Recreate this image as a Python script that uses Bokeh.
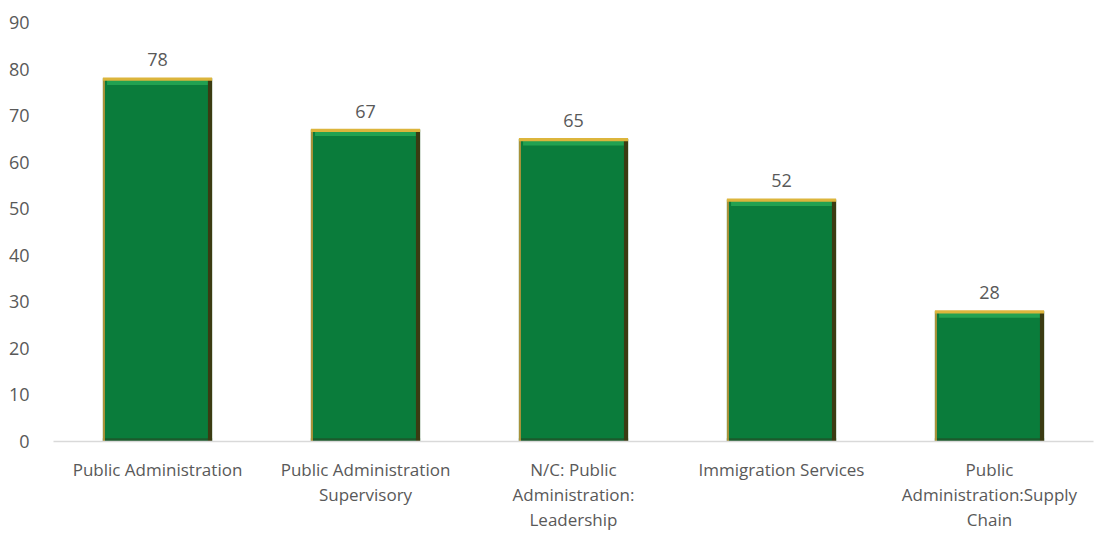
from bokeh.plotting import figure
from bokeh.models import ColumnDataSource, FixedTicker, Range1d
from bokeh.core.properties import value
from bokeh.transform import dodge
from bokeh.embed import file_html
from bokeh.resources import INLINE

categories = ["Public Administration", "Public Administration\nSupervisory",
              "N/C: Public\nAdministration:\nLeadership", "Immigration Services",
              "Public\nAdministration:Supply\nChain"]
values = [78, 67, 65, 52, 28]
y_ticks = [0, 10, 20, 30, 40, 50, 60, 70, 80, 90]

xs = list(range(len(categories)))
src = ColumnDataSource(dict(
    x=xs, top=values,
    bevel_bottom=[v - 1.4 for v in values],
    gold_bottom=[v - 0.5 for v in values],
    gold_top=[v + 0.2 for v in values],
    label=[str(v) for v in values],
))

p = figure(width=1095, height=534, output_backend="svg", toolbar_location=None,
           x_range=Range1d(-0.5, 4.5), y_range=Range1d(0, 90),
           min_border_left=53, min_border_right=2, min_border_top=22, min_border_bottom=86)
p.outline_line_color = None
p.grid.grid_line_color = None
p.background_fill_color = "white"

bw = 0.525
edge = 0.02
# main bar
p.vbar(x="x", top="top", bottom=0, width=bw, source=src,
       fill_color="#0a7c3b", line_color=None)
# lighter top bevel
p.vbar(x="x", top="top", bottom="bevel_bottom", width=bw - 0.04, source=src,
       fill_color="#22a151", line_color=None)
# darker bottom edge
p.vbar(x="x", top=0.7, bottom=0, width=bw, source=src,
       fill_color="#1b5a2c", line_color=None)
# dark right edge
p.vbar(x=dodge("x", bw / 2 - edge / 2, range=p.x_range), top="top", bottom=0,
       width=edge, source=src, fill_color="#3b3b12", line_color=None)
# thin gold left edge
p.vbar(x=dodge("x", -bw / 2 + 0.005, range=p.x_range), top="top", bottom=0,
       width=0.01, source=src, fill_color="#a8923a", line_color=None)
# gold top edge
p.vbar(x="x", top="gold_top", bottom="gold_bottom", width=bw, source=src,
       fill_color="#dcb53c", line_color=None)

p.text(x="x", y="top", text="label", source=src, text_align="center",
       text_baseline="bottom", y_offset=-12, text_font_size="18px",
       text_color="#595959", text_font=value("Open Sans"))

p.xaxis.ticker = FixedTicker(ticks=xs)
p.xaxis.major_label_overrides = {i: c for i, c in enumerate(categories)}
p.xaxis.major_tick_line_color = None
p.xaxis.minor_tick_line_color = None
p.xaxis.axis_line_color = "#d9d9d9"
p.xaxis.axis_line_width = 1.5
p.xaxis.major_label_text_font = "Open Sans"
p.xaxis.major_label_text_font_size = "17px"
p.xaxis.major_label_text_color = "#595959"
p.xaxis.major_label_standoff = 10
p.xaxis.major_label_text_line_height = 1.1

p.yaxis.ticker = FixedTicker(ticks=y_ticks)
p.yaxis.axis_line_color = None
p.yaxis.major_tick_line_color = None
p.yaxis.minor_tick_line_color = None
p.yaxis.major_label_text_font = "Open Sans"
p.yaxis.major_label_text_font_size = "18px"
p.yaxis.major_label_text_color = "#595959"
p.yaxis.major_label_standoff = 18

open("out.html", "w").write(file_html(p, INLINE))
